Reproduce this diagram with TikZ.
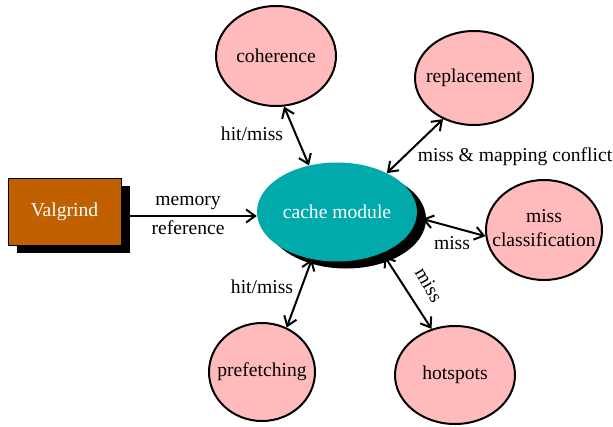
\documentclass[tikz,border=0pt]{standalone}
\usepackage{fontspec}
\setmainfont{Liberation Serif}
\usetikzlibrary{shapes.geometric,arrows.meta,shadows}
\definecolor{pinkfill}{RGB}{255,187,187}
\definecolor{tealfill}{RGB}{0,170,170}
\definecolor{valgfill}{RGB}{192,96,0}
\newcommand{\zw}[1]{\makebox[0pt]{#1}}
\begin{document}
\begin{tikzpicture}[x=1pt,y=-1pt,
  font=\fontsize{19.6}{23}\selectfont,
  sub/.style={ellipse,draw=black,line width=2pt,fill=pinkfill,inner sep=0pt},
  conn/.style={line width=2pt,{Straight Barb[length=9pt,width=13pt]}-{Straight Barb[length=9pt,width=13pt]}},
  onearrow/.style={line width=2pt,-{Straight Barb[length=9pt,width=13pt]}},
  lbl/.style={inner sep=0pt}]
\useasboundingbox (0,0) rectangle (613,426);
% nodes
\node[rectangle,draw=black,line width=1pt,fill=valgfill,text=white,minimum width=113pt,minimum height=67pt,inner sep=0pt,
  drop shadow={shadow xshift=9pt,shadow yshift=-8pt,fill=black,opacity=1}] (valg) at (64.5,211.5) {Valgrind};
\node[ellipse,fill=tealfill,text=white,minimum width=160pt,minimum height=99pt,inner sep=0pt,
  drop shadow={shadow xshift=9pt,shadow yshift=-7pt,fill=black,opacity=1}] (cache) at (337,212) {\zw{cache module}};
\node[sub,minimum width=120pt,minimum height=100pt] (coh) at (276,56) {\zw{coherence}};
\node[sub,minimum width=118pt,minimum height=94pt] (repl) at (474,78) {\zw{replacement}};
\node[sub,minimum width=116pt,minimum height=100pt] (mcls) at (544,230) {\zw{\begin{tabular}{@{}c@{}}miss\\[1pt]classification\end{tabular}}};
\node[sub,minimum width=106pt,minimum height=98pt] (pref) at (262,372) {\zw{prefetching}};
\node[sub,minimum width=120pt,minimum height=98pt] (hot) at (455,375) {\zw{hotspots}};
% connectors
\draw[onearrow] (valg.east |- 0,216) -- (cache.west |- 0,216);
\draw[conn] (coh.-81) -- (cache.121);
\draw[conn] (repl.-127) -- (cache.38);
\draw[conn] ([xshift=6pt]cache.-5) -- (mcls.186);
\draw[conn] ([xshift=4pt,yshift=-2pt]cache.-44) -- (hot.117);
\draw[conn] (cache.-118) -- (pref.61);
% labels
\node[lbl] (lmem) at (188,203) {memory};
\node[lbl] (lref) at (188,228) {reference};
\node[lbl] (lcoh) at (252,134) {hit/miss};
\node[lbl] (lrepl) at (515,157) {miss \& mapping conflict};
\node[lbl] (lmcls) at (452,243) {miss};
\node[lbl,rotate=-60] (lhot) at (429,285) {miss};
\node[lbl] (lpref) at (262,287) {hit/miss};
\end{tikzpicture}
\end{document}
